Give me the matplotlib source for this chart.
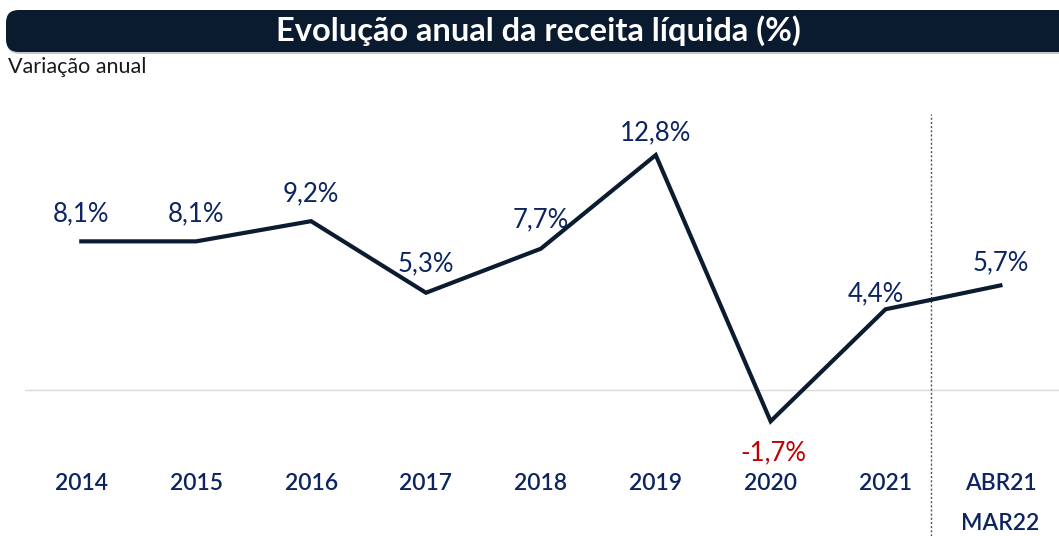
import matplotlib
matplotlib.use('Agg')
import matplotlib.pyplot as plt
from matplotlib.patches import FancyBboxPatch

#
#--- chart data
#
categories = ['2014', '2015', '2016', '2017', '2018', '2019', '2020', '2021', 'ABR21']
second_row = ['', '', '', '', '', '', '', '', 'MAR22']
values     = [8.1, 8.1, 9.2, 5.3, 7.7, 12.8, -1.7, 4.4, 5.7]
labels     = ['8,1%', '8,1%', '9,2%', '5,3%', '7,7%', '12,8%', '-1,7%', '4,4%', '5,7%']

title    = 'Evolução anual da receita líquida (%)'
subtitle = 'Variação anual'

navy   = '#0c2461'
line_c = '#0b1b30'
bar_c  = '#0a1a2f'
red    = '#c00000'

plt.rcParams['font.family'] = ['Lato', 'DejaVu Sans']

W, H = 1059, 536
fig = plt.figure(figsize=(W / 100.0, H / 100.0), dpi=100)

#
#--- title bar
#
shadow = FancyBboxPatch((7 / W, 1 - 54 / H), 1.2, 42 / H,
                        boxstyle='round,pad=0,rounding_size=0.012',
                        transform=fig.transFigure, facecolor='#c8c8c8',
                        edgecolor='none', mutation_aspect=W / H, zorder=1)
fig.patches.append(shadow)
bar = FancyBboxPatch((6 / W, 1 - 52 / H), 1.2, 42 / H,
                     boxstyle='round,pad=0,rounding_size=0.012',
                     transform=fig.transFigure, facecolor=bar_c,
                     edgecolor='none', mutation_aspect=W / H, zorder=2)
fig.patches.append(bar)
fig.text(538 / W, 1 - 31 / H, title, color='white', fontsize=23.5,
         fontweight='bold', ha='center', va='center', zorder=3)
fig.text(8 / W, 1 - 67 / H, subtitle, color='#1a1a1a', fontsize=15.5,
         ha='left', va='center')

#
#--- main panel
#
ax = fig.add_axes([25 / W, 0, 1 - 25 / W, 436 / H])
ax.set_xlim(-0.49, 8.51)
ax.set_ylim(-7.95, 15.8)
ax.axis('off')

x = list(range(len(values)))
ax.axhline(0, color='#d9d9d9', lw=1, zorder=1)
ax.axvline(7.4, ymin=0, ymax=0.968, color='#44546a', lw=1, ls=(0, (1.5, 1.5)), zorder=1)
ax.plot(x, values, color=line_c, lw=3, solid_joinstyle='miter', zorder=3)

offsets = [1.5, 1.5, 1.5, 1.55, 1.6, 1.2, -1.7, 0.85, 1.25]
dx      = [0, 0, 0, 0, 0, 0, 0.02, -0.08, 0]
for i in x:
    col = red if values[i] < 0 else navy
    ax.text(x[i] + dx[i], values[i] + offsets[i], labels[i], color=col,
            fontsize=18.5, ha='center', va='center')

for i in x:
    ax.text(x[i], -5.07, categories[i], color=navy, fontsize=16.5,
            fontweight='semibold', ha='center', va='center')
    if second_row[i]:
        ax.text(x[i], -7.25, second_row[i], color=navy, fontsize=16.5,
                fontweight='semibold', ha='center', va='center')

fig.savefig('out.png', dpi=100)
